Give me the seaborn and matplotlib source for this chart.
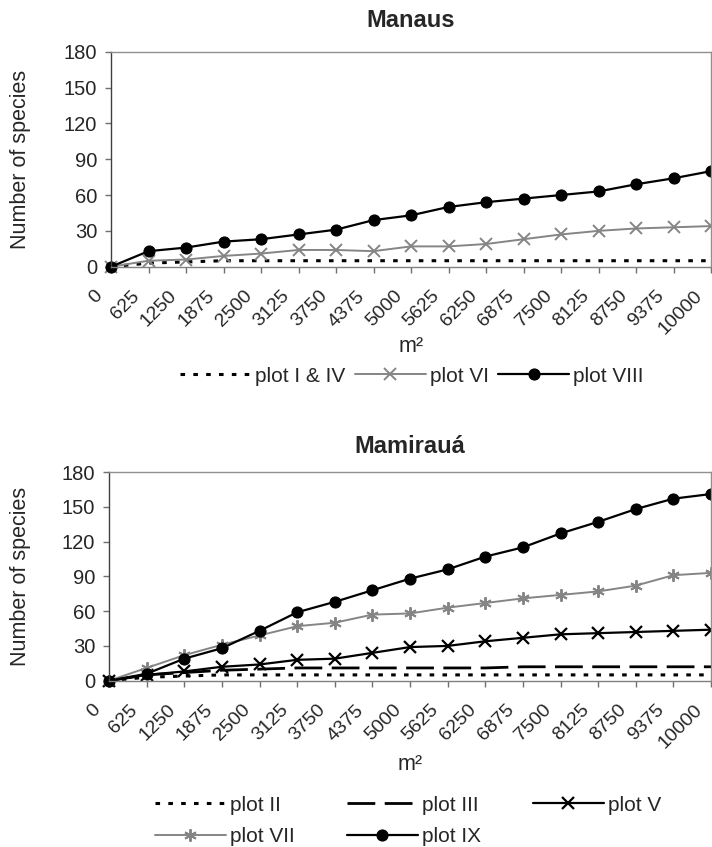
import matplotlib

matplotlib.use("Agg")
import matplotlib.pyplot as plt
import matplotlib.transforms as mtransforms
import seaborn as sns

areas = [0, 625, 1250, 1875, 2500, 3125, 3750, 4375, 5000,
         5625, 6250, 6875, 7500, 8125, 8750, 9375, 10000]
area_labels = [str(a) for a in areas]
y_ticks = [0, 30, 60, 90, 120, 150, 180]

# Manaus
plot_I_IV = [0, 3, 4, 5, 5, 5, 5, 5, 5, 5, 5, 5, 5, 5, 5, 5, 5]
plot_VI = [0, 5, 6, 9, 11, 14, 14, 13, 17, 17, 19, 23, 27, 30, 32, 33, 34]
plot_VIII = [0, 13, 16, 21, 23, 27, 31, 39, 43, 50, 54, 57, 60, 63, 69, 74, 80]

# Mamiraua
plot_II = [0, 3, 4, 5, 5, 5, 5, 5, 5, 5, 5, 5, 5, 5, 5, 5, 5]
plot_III = [0, 5, 7, 9, 10, 11, 11, 11, 11, 11, 11, 12, 12, 12, 12, 12, 12]
plot_V = [0, 5, 8, 12, 14, 18, 19, 24, 29, 30, 34, 37, 40, 41, 42, 43, 44]
plot_VII = [0, 11, 22, 31, 39, 47, 50, 57, 58, 63, 67, 71, 74, 77, 82, 91, 93]
plot_IX = [0, 6, 19, 28, 43, 59, 68, 78, 88, 96, 107, 115, 127, 137, 148, 157, 161]

sns.set_style("white")
plt.rcParams["font.family"] = ["Liberation Sans", "DejaVu Sans"]

GRAY = "#858585"
W, H = 712, 847

fig = plt.figure(figsize=(W / 100, H / 100), dpi=100)
ax1 = fig.add_axes([111 / W, 1 - 266.7 / H, 600 / W, 215 / H])
ax2 = fig.add_axes([109 / W, 1 - 680.7 / H, 602 / W, 208.7 / H])


def draw(ax, values, label, color="black", **kw):
    sns.lineplot(x=areas, y=values, ax=ax, color=color, label=label,
                 legend=False, clip_on=False, **kw)


def style_axes(ax, title, pad):
    ax.set_xlim(0, 10000)
    ax.set_ylim(0, 180)
    ax.set_yticks(y_ticks)
    ax.set_xticks(areas)
    ax.set_xticklabels(area_labels, rotation=45, ha="right")
    ax.tick_params(axis="y", left=True, length=4, width=1, color="#707070",
                   pad=6, labelsize=14.5)
    ax.tick_params(axis="x", bottom=True, length=4, width=1, color="#707070",
                   pad=11, labelsize=14)
    shift = mtransforms.ScaledTranslation(-4 / 72, 0, fig.dpi_scale_trans)
    for lab in ax.get_xticklabels():
        lab.set_transform(lab.get_transform() + shift)
    ax.spines["left"].set_color("#404040")
    ax.spines["bottom"].set_color("#808080")
    ax.spines["top"].set_color("#909090")
    ax.spines["right"].set_color("#909090")
    for s in ax.spines.values():
        s.set_linewidth(1.0)
    ax.set_title(title, fontsize=17, fontweight="bold", pad=pad)
    ax.set_xlabel("")
    ax.set_ylabel("")


dot = (0, (1.5, 2.7))

# Manaus
draw(ax1, plot_I_IV, "plot I & IV", linewidth=2.2, linestyle=dot)
draw(ax1, plot_VI, "plot VI", color=GRAY, linewidth=1.4, marker="x",
     markersize=8, markeredgewidth=1.4, markeredgecolor=GRAY)
draw(ax1, plot_VIII, "plot VIII", linewidth=1.6, marker="o",
     markersize=8, markeredgecolor="black")
style_axes(ax1, "Manaus", 18)

# Mamiraua
draw(ax2, plot_II, "plot II", linewidth=2.2, linestyle=dot)
draw(ax2, plot_III, "plot III", linewidth=2.0, linestyle=(0, (10, 3.4)))
draw(ax2, plot_V, "plot V", linewidth=1.6, marker="x",
     markersize=8, markeredgewidth=1.6, markeredgecolor="black")
draw(ax2, plot_VII, "plot VII", color=GRAY, linewidth=1.4, marker=(6, 2, 0),
     markersize=9, markeredgewidth=1.4, markeredgecolor=GRAY)
draw(ax2, plot_IX, "plot IX", linewidth=1.6, marker="o",
     markersize=8, markeredgecolor="black")
style_axes(ax2, "Mamirauá", 13.5)

# axis labels
for yc in (159, 576):
    fig.text(21 / W, 1 - yc / H, "Number of species", rotation=90,
             ha="center", va="center", fontsize=15.5)
fig.text(411 / W, 1 - 352 / H, "m²", ha="center", va="baseline", fontsize=15.5)
fig.text(410 / W, 1 - 770 / H, "m²", ha="center", va="baseline", fontsize=15.5)

# legends
h1, l1 = ax1.get_legend_handles_labels()
fig.legend(h1, l1, loc="center", bbox_to_anchor=(412 / W, 1 - 376 / H),
           ncol=3, frameon=False, fontsize=15, handlelength=3.4,
           handletextpad=0.2, columnspacing=0.45, numpoints=1,
           borderpad=0, borderaxespad=0)

h2, l2 = ax2.get_legend_handles_labels()
order = [0, 3, 1, 4, 2]  # column-major fill -> rows: II III V / VII IX
fig.legend([h2[i] for i in order], [l2[i] for i in order], loc="center",
           bbox_to_anchor=(408 / W, 1 - 821 / H), ncol=3, frameon=False,
           fontsize=15, handlelength=3.4, handletextpad=0.2,
           columnspacing=2.5, labelspacing=0.6, numpoints=1,
           borderpad=0, borderaxespad=0)

fig.savefig("out.png", dpi=100)
